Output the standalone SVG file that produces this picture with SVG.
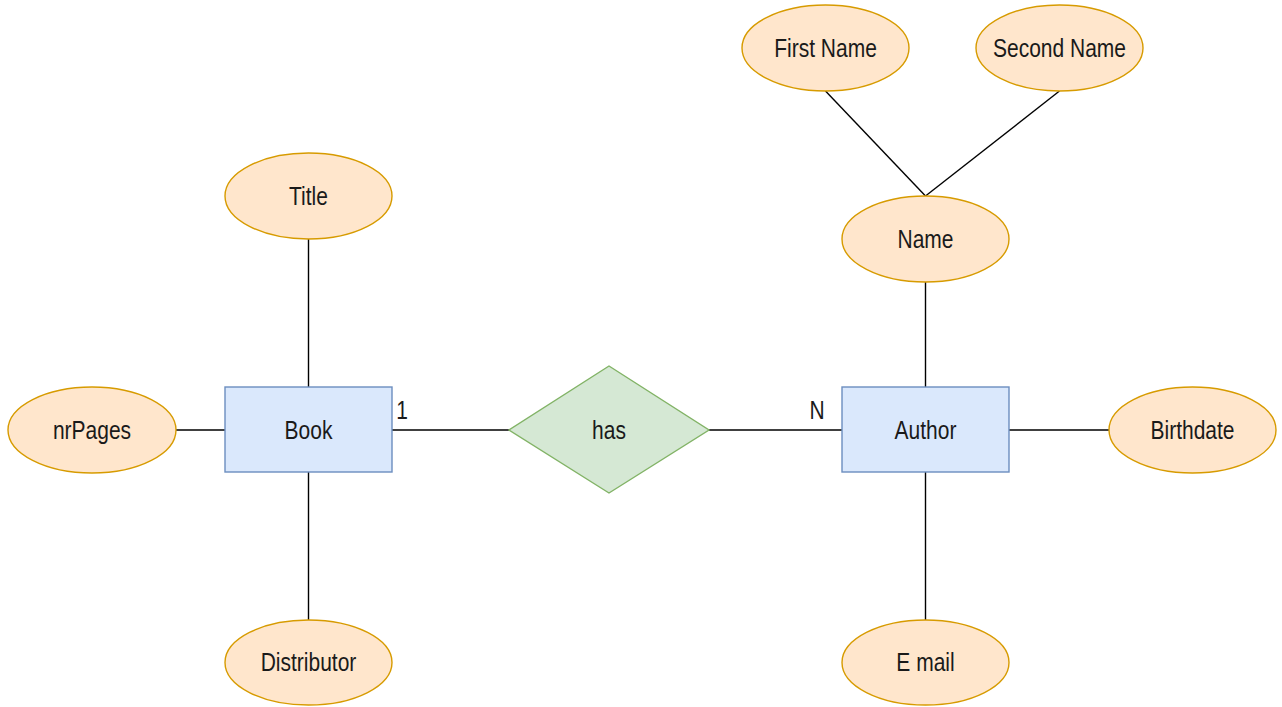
<svg xmlns="http://www.w3.org/2000/svg" width="1282" height="707" viewBox="0 0 1282 707">
<style>
.attr{fill:#ffe6cc;stroke:#d79b00;stroke-width:1.4}
.ent{fill:#dae8fc;stroke:#6c8ebf;stroke-width:1.4}
.rel{fill:#d5e8d4;stroke:#82b366;stroke-width:1.4}
.edge{stroke:#000;stroke-width:1.4;fill:none}
text{font-family:"Liberation Sans",Arial,sans-serif;font-size:21px;fill:#1a1a1a;text-anchor:middle;dominant-baseline:central}
</style>
<rect width="1282" height="707" fill="#fff"/>
<g id="connectors">
<line class="edge" x1="308.5" y1="239" x2="308.5" y2="387"/>
<line class="edge" x1="308.5" y1="472" x2="308.5" y2="620"/>
<line class="edge" x1="176" y1="430" x2="225" y2="430"/>
<line class="edge" x1="392" y1="430" x2="509" y2="430"/>
<line class="edge" x1="709" y1="430" x2="842" y2="430"/>
<line class="edge" x1="1009" y1="430" x2="1109" y2="430"/>
<line class="edge" x1="925.5" y1="472" x2="925.5" y2="620"/>
<line class="edge" x1="925.5" y1="282" x2="925.5" y2="387"/>
<line class="edge" x1="825.5" y1="91" x2="925.5" y2="196"/>
<line class="edge" x1="1059.5" y1="91" x2="925.5" y2="196"/>
<text transform="translate(402 410) scale(1 1.2)">1</text>
<text transform="translate(817 410) scale(1 1.2)">N</text>
</g>
<g id="book"><rect class="ent" x="225" y="387" width="167" height="85"/><text transform="translate(308.5 430) scale(1 1.2)">Book</text></g>
<g id="author"><rect class="ent" x="842" y="387" width="167" height="85"/><text transform="translate(925.5 430) scale(1 1.2)">Author</text></g>
<g id="has"><polygon class="rel" points="609,366 709,430 609,493 509,430"/><text transform="translate(609 430) scale(1 1.2)">has</text></g>
<g id="title"><ellipse class="attr" cx="308.5" cy="196" rx="83.5" ry="43"/><text transform="translate(308.5 196) scale(1 1.2)">Title</text></g>
<g id="nrpages"><ellipse class="attr" cx="92" cy="430" rx="84" ry="43"/><text transform="translate(92 430) scale(1 1.2)">nrPages</text></g>
<g id="distributor"><ellipse class="attr" cx="308.5" cy="662.5" rx="83.5" ry="42.5"/><text transform="translate(308.5 662) scale(1 1.2)">Distributor</text></g>
<g id="firstname"><ellipse class="attr" cx="825.5" cy="48" rx="83.5" ry="43"/><text transform="translate(825.5 48) scale(1 1.2)">First Name</text></g>
<g id="secondname"><ellipse class="attr" cx="1059.5" cy="48" rx="83.5" ry="43"/><text transform="translate(1059.5 48) scale(1 1.2)">Second Name</text></g>
<g id="name"><ellipse class="attr" cx="925.5" cy="239" rx="83.5" ry="43"/><text transform="translate(925.5 239) scale(1 1.2)">Name</text></g>
<g id="birthdate"><ellipse class="attr" cx="1192.5" cy="430" rx="83.5" ry="43"/><text transform="translate(1192.5 430) scale(1 1.2)">Birthdate</text></g>
<g id="email"><ellipse class="attr" cx="925.5" cy="662.5" rx="83.5" ry="42.5"/><text transform="translate(925.5 662) scale(1 1.2)">E mail</text></g>
</svg>
